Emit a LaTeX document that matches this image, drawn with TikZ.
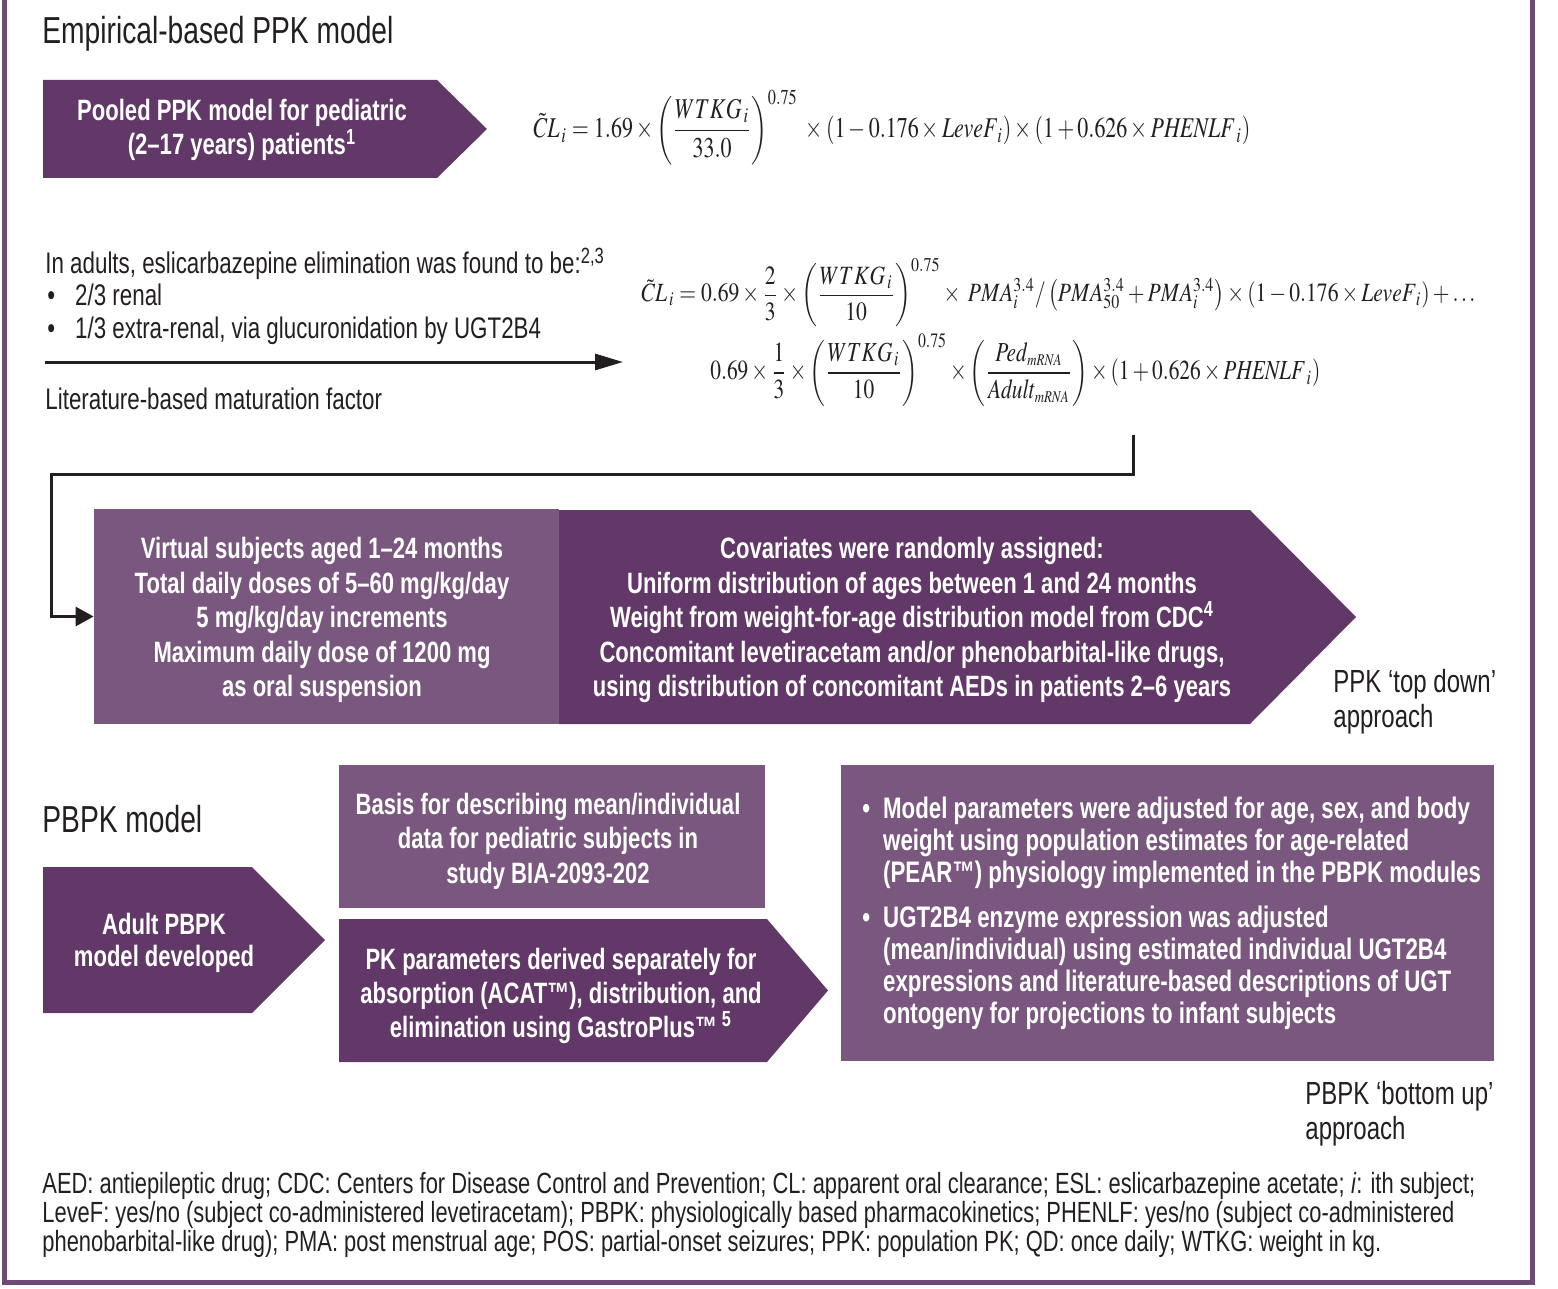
\documentclass[tikz,border=0pt]{standalone}
\usepackage{amsmath}
\usepackage{mathptmx}
\usepackage[no-math]{fontspec}
\setmainfont{Liberation Sans}[FakeStretch=0.75]
\usepackage{graphicx}
\usetikzlibrary{arrows.meta}
\definecolor{pdark}{HTML}{623868}
\definecolor{plight}{HTML}{7A577E}
\definecolor{pframe}{HTML}{6E4A75}
\definecolor{tc}{HTML}{231F20}
\tikzset{
  darkfill/.style={fill=pdark},
  lightbox/.style={fill=plight, draw=none, inner sep=0pt},
  boxtext/.style={text=white, font=\bfseries\fontsize{14.7}{17.25}\selectfont, align=center, inner sep=0pt},
  plain/.style={text=tc, inner sep=0pt, anchor=base west},
  bodyfont/.style={font=\fontsize{14.9}{16}\selectfont},
  headfont/.style={font=\fontsize{18.8}{22}\selectfont},
  sidefont/.style={font=\fontsize{16}{18}\selectfont},
  notefont/.style={font=\fontsize{14.6}{16}\selectfont},
  formula/.style={text=tc, inner sep=0pt, anchor=west},
  conn/.style={draw=tc, line width=1.5pt},
}
\begin{document}
\begin{tikzpicture}[x=0.5pt,y=-0.5pt]
\useasboundingbox (0,0) rectangle (1558,1289);
% frame
\draw[pframe, line width=2.5pt] (4.5,-5) -- (4.5,1282) -- (1532.5,1282) -- (1532.5,-5);

% headings
\node[plain, headfont] (h1) at (42,44) {Empirical-based PPK model};
\node[plain, headfont] (h2) at (42,832) {PBPK model};

% pooled PPK arrow
\fill[darkfill] (43,80) -- (437,80) -- (487,129) -- (437,178) -- (43,178) -- cycle;
\node[boxtext] (pooled) at (242,130) {Pooled PPK model for pediatric\\(2–17 years) patients\textsuperscript{1}};

% formula 1
\node[formula] (f1) at (533,127.5) {\resizebox*{358.5pt}{37.5pt}{$\displaystyle \tilde{C}L_{\,i} = 1.69\times\left(\frac{WTKG_{\,i}}{33.0}\right)^{0.75}\;\times\left(1-0.176\times \mathit{LeveF}_i\right)\times\left(1+0.626\times \mathit{PHENLF}_{\,i}\right)$}};

% adults text
\node[plain, bodyfont] (ad1) at (45,274) {In adults, eslicarbazepine elimination was found to be:\textsuperscript{2,3}};
\node[plain, bodyfont] (ad2) at (47,306) {\textbullet\hspace{10pt}2/3 renal};
\node[plain, bodyfont] (ad3) at (47,338) {\textbullet\hspace{10pt}1/3 extra-renal, via glucuronidation by UGT2B4};
\node[plain, bodyfont] (ad4) at (45,409) {Literature-based maturation factor};
\coordinate (a0) at (45,362);
\coordinate (a1) at (623,362);
\draw[conn, -{Triangle[length=14pt,width=8pt]}] (a0) -- (a1);

% formula 2
\node[formula] (f2a) at (641,292.5) {\resizebox*{417pt}{34.5pt}{$\displaystyle \tilde{C}L_{\,i} = 0.69\times\frac{2}{3}\times\left(\frac{WTKG_{\,i}}{10}\right)^{0.75}\times\ PMA_i^{3.4}/\left(PMA_{50}^{3.4}+PMA_i^{3.4}\right)\times\left(1-0.176\times \mathit{LeveF}_i\right)+\ldots$}};
\node[formula] (f2b) at (710,370) {\resizebox*{305pt}{36pt}{$\displaystyle 0.69\times\frac{1}{3}\times\left(\frac{WTKG_{\,i}}{10}\right)^{0.75}\times\left(\frac{\mathit{Ped}_{\scriptscriptstyle mRNA}}{\mathit{Adult}_{\scriptscriptstyle mRNA}}\right)\times\left(1+0.626\times \mathit{PHENLF}_{\,i}\right)$}};

% virtual subjects
\node[lightbox, minimum width=232.5pt, minimum height=107.5pt] (vbox) at (326.5,616.5) {};
\node[boxtext] (vtext) at (322,620) {Virtual subjects aged 1–24 months\\Total daily doses of 5–60 mg/kg/day\\5 mg/kg/day increments\\Maximum daily dose of 1200 mg\\as oral suspension};
\fill[darkfill] (559,510) -- (1250,510) -- (1356,617) -- (1250,724) -- (559,724) -- cycle;
\node[boxtext] (cov) at (912,620) {Covariates were randomly assigned:\\Uniform distribution of ages between 1 and 24 months\\Weight from weight-for-age distribution model from CDC\textsuperscript{4}\\Concomitant levetiracetam and/or phenobarbital-like drugs,\\using distribution of concomitant AEDs in patients 2–6 years};

% connector
\coordinate (c0) at (1133,435);
\coordinate (c1) at (51,474);
\draw[conn, -{Triangle[length=9pt,width=9.5pt]}] (c0) |- (c1) |- (vbox.west);

% side labels
\node[plain, sidefont] (td1) at (1333,692) {PPK ‘top down’};
\node[plain, sidefont] (td2) at (1333,727) {approach};
\node[plain, sidefont] (bu1) at (1305,1104) {PBPK ‘bottom up’};
\node[plain, sidefont] (bu2) at (1305,1139) {approach};

% PBPK part
\fill[darkfill] (43,867) -- (252,867) -- (325,940) -- (252,1013) -- (43,1013) -- cycle;
\node[boxtext, font=\bfseries\fontsize{14.7}{16}\selectfont] (adult) at (164,943) {Adult PBPK\\model developed};

\node[lightbox, minimum width=213pt, minimum height=71.5pt] (basis) at (552,836.5) {};
\node[boxtext] (basistext) at (548,841) {Basis for describing mean/individual\\data for pediatric subjects in\\study BIA-2093-202};

\fill[darkfill] (339,919) -- (767,919) -- (828,990.5) -- (767,1062) -- (339,1062) -- cycle;
\node[boxtext, font=\bfseries\fontsize{14.7}{17}\selectfont] (pk) at (561,996) {PK parameters derived separately for\\absorption (ACAT™), distribution, and\\elimination using GastroPlus™\,\textsuperscript{5}};

\node[lightbox, minimum width=326.5pt, minimum height=148pt] (rbox) at (1167.5,913) {};
\node[text=white, inner sep=0pt, anchor=north west, font=\bfseries\fontsize{14.85}{16}\selectfont] (rtext) at (862,796) {%
\begin{tabular}{@{}l@{\hspace{6.5pt}}l@{}}
\textbullet & Model parameters were adjusted for age, sex, and body\\
 & weight using population estimates for age-related\\
 & (PEAR™) physiology implemented in the PBPK modules\\[6.5pt]
\textbullet & UGT2B4 enzyme expression was adjusted\\
 & (mean/individual) using estimated individual UGT2B4\\
 & expressions and literature-based descriptions of UGT\\
 & ontogeny for projections to infant subjects
\end{tabular}};

% footnote
\node[plain, notefont] (fn1) at (42,1193) {AED: antiepileptic drug; CDC: Centers for Disease Control and Prevention; CL: apparent oral clearance; ESL: eslicarbazepine acetate; \textit{i}: ith subject;};
\node[plain, notefont] (fn2) at (42,1222) {LeveF: yes/no (subject co-administered levetiracetam); PBPK: physiologically based pharmacokinetics; PHENLF: yes/no (subject co-administered};
\node[plain, notefont] (fn3) at (42,1251) {phenobarbital-like drug); PMA: post menstrual age; POS: partial-onset seizures; PPK: population PK; QD: once daily; WTKG: weight in kg.};
\end{tikzpicture}
\end{document}
